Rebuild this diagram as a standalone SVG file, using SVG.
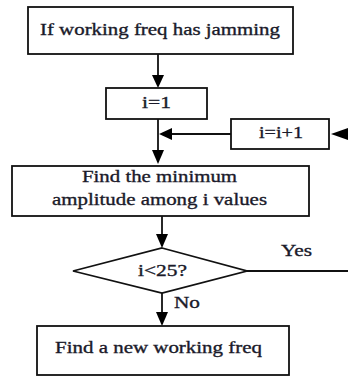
<svg xmlns="http://www.w3.org/2000/svg" width="348" height="376" viewBox="0 0 348 376">
<defs>
<style>
.box{fill:#fff;stroke:#111;stroke-width:1.8}
.ln{fill:none;stroke:#111;stroke-width:1.8}
.ah{fill:#000}
.t{font-family:'Liberation Serif','DejaVu Serif',serif;font-size:17px;fill:#1a1a2a;stroke:#1a1a2a;stroke-width:0.35}
</style>
</defs>
<rect width="348" height="376" fill="#fff"/>
<g id="connectors">
<line class="ln" x1="158" y1="54" x2="158" y2="78"/>
<polygon class="ah" points="152,75 164,75 158,88"/>
<line class="ln" x1="158" y1="119" x2="158" y2="152"/>
<polygon class="ah" points="152,150 164,150 158,164"/>
<line class="ln" x1="231" y1="134" x2="170" y2="134"/>
<polygon class="ah" points="172,128 172,140 159,134"/>
<polygon class="ah" points="348,128 348,140 331,134"/>
<line class="ln" x1="162" y1="216" x2="162" y2="236"/>
<polygon class="ah" points="156,234 168,234 162,248"/>
<line class="ln" x1="247" y1="271" x2="348" y2="271"/>
<line class="ln" x1="162" y1="293" x2="162" y2="314"/>
<polygon class="ah" points="156,312 168,312 162,326"/>
<text class="t" x="281" y="256" textLength="31" lengthAdjust="spacingAndGlyphs">Yes</text>
<text class="t" x="174" y="308" textLength="26" lengthAdjust="spacingAndGlyphs">No</text>
</g>
<g id="n1">
<rect class="box" x="28" y="7" width="265" height="47"/>
<text class="t" x="40" y="35" textLength="240" lengthAdjust="spacingAndGlyphs">If working freq has jamming</text>
</g>
<g id="n2">
<rect class="box" x="106" y="88" width="101" height="31"/>
<text class="t" x="142" y="108" textLength="29" lengthAdjust="spacingAndGlyphs">i=1</text>
</g>
<g id="n3">
<rect class="box" x="231" y="119" width="98" height="30"/>
<text class="t" x="259" y="138" textLength="44" lengthAdjust="spacingAndGlyphs">i=i+1</text>
</g>
<g id="n4">
<rect class="box" x="12" y="166" width="297" height="50"/>
<text class="t" x="82" y="182" textLength="155" lengthAdjust="spacingAndGlyphs">Find the minimum</text>
<text class="t" x="52" y="205" textLength="215" lengthAdjust="spacingAndGlyphs">amplitude among i values</text>
</g>
<g id="n5">
<polygon class="box" points="162,248 247,271 162,293 73,271"/>
<text class="t" x="138" y="276" textLength="49" lengthAdjust="spacingAndGlyphs">i&lt;25?</text>
</g>
<g id="n6">
<rect class="box" x="37" y="326" width="252" height="49"/>
<text class="t" x="55" y="353" textLength="207" lengthAdjust="spacingAndGlyphs">Find a new working freq</text>
</g>
</svg>
